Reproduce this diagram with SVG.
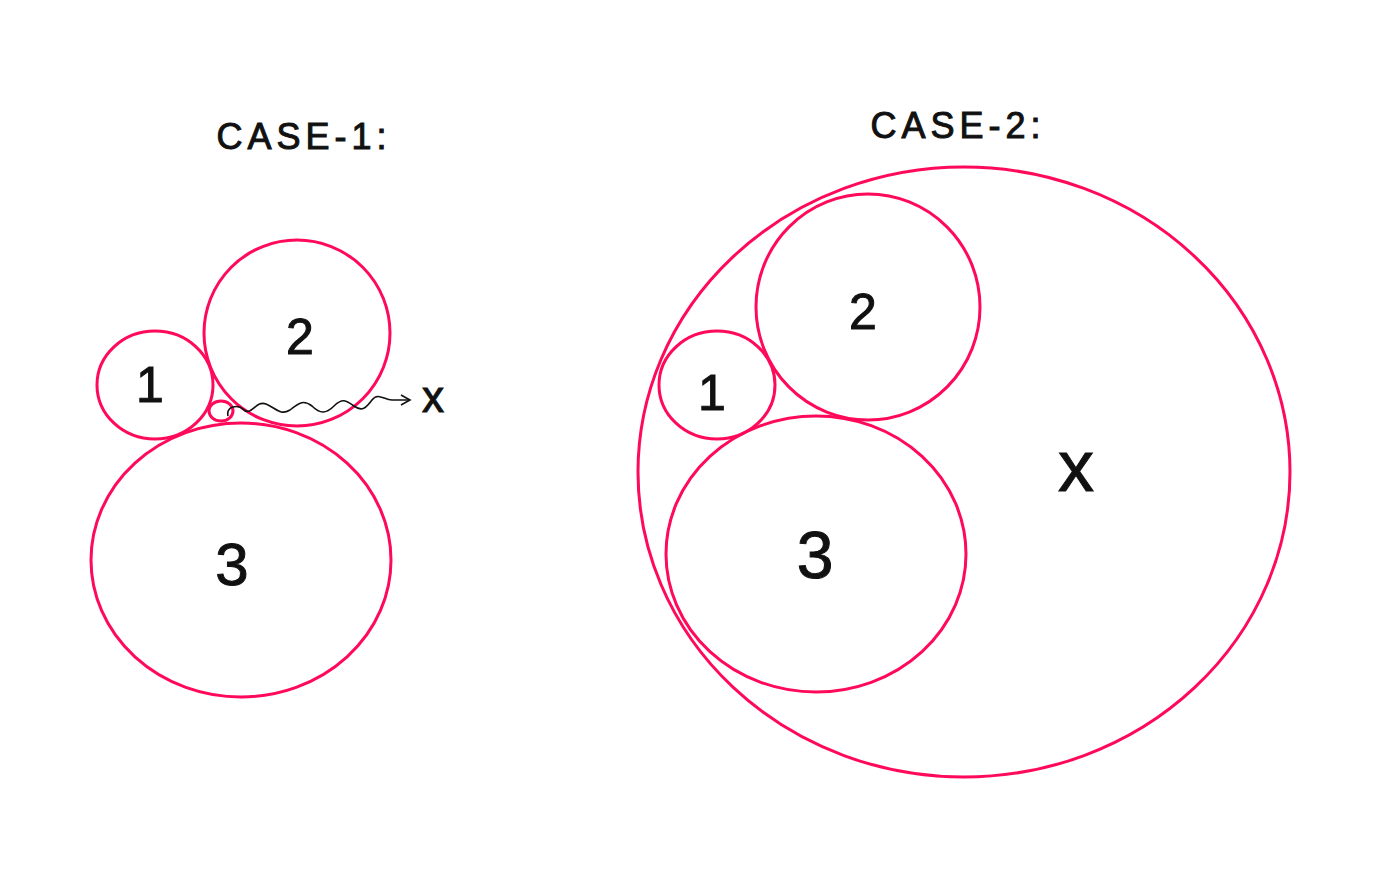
<svg xmlns="http://www.w3.org/2000/svg" width="1400" height="885" viewBox="0 0 1400 885">
<defs>
<style>
.c{fill:none;stroke:#ff0a5a;stroke-width:3}
.t{font-family:"Liberation Sans",Arial,sans-serif;fill:#111;text-anchor:middle;stroke:#111;stroke-width:1}
.title{font-size:36px;letter-spacing:5px}
.n{font-size:50px}
.w{fill:none;stroke:#111;stroke-width:1.6}
</style>
<marker id="ah" markerWidth="12" markerHeight="12" refX="10" refY="6" orient="auto" markerUnits="userSpaceOnUse">
<path d="M1,1 L10,6 L1,11" fill="none" stroke="#111" stroke-width="1.6"/>
</marker>
</defs>
<rect width="1400" height="885" fill="#fff"/>
<text class="t title" x="304" y="149">CASE-1:</text>
<text class="t title" x="958" y="138">CASE-2:</text>
<g id="c1-circle1"><ellipse class="c" cx="155" cy="385" rx="58" ry="54"/><text class="t n" x="150" y="402">1</text></g>
<g id="c1-circle2"><ellipse class="c" cx="297" cy="333" rx="93" ry="93"/><text class="t n" x="300" y="354">2</text></g>
<g id="c1-circle3"><ellipse class="c" cx="241" cy="560" rx="150" ry="137"/><text class="t" style="font-size:60px" x="232" y="585">3</text></g>
<g id="c1-small"><ellipse class="c" cx="221" cy="411" rx="12" ry="10"/></g>
<g id="c1-x"><text class="t" style="font-size:44px" x="433" y="412">x</text></g>
<g id="connectors">
<path class="w" marker-end="url(#ah)" d="M228,416 C226,406 238,404 244,410 C252,416 256,400 266,404 C276,408 280,416 290,410 C300,402 304,400 312,406 C320,414 326,414 334,406 C342,398 346,400 354,406 C362,412 366,408 372,400 C378,392 384,400 392,400 L410,400"/>
</g>
<g id="c2-x"><ellipse class="c" cx="964" cy="472" rx="326" ry="305"/><text class="t" style="font-size:72px" x="1076" y="491">x</text></g>
<g id="c2-circle2"><ellipse class="c" cx="868" cy="307" rx="112" ry="113"/><text class="t n" x="863" y="329">2</text></g>
<g id="c2-circle1"><ellipse class="c" cx="717" cy="385" rx="58" ry="54"/><text class="t n" x="712" y="410">1</text></g>
<g id="c2-circle3"><ellipse class="c" cx="816" cy="554" rx="150" ry="138"/><text class="t" style="font-size:66px" x="815" y="578">3</text></g>
</svg>
